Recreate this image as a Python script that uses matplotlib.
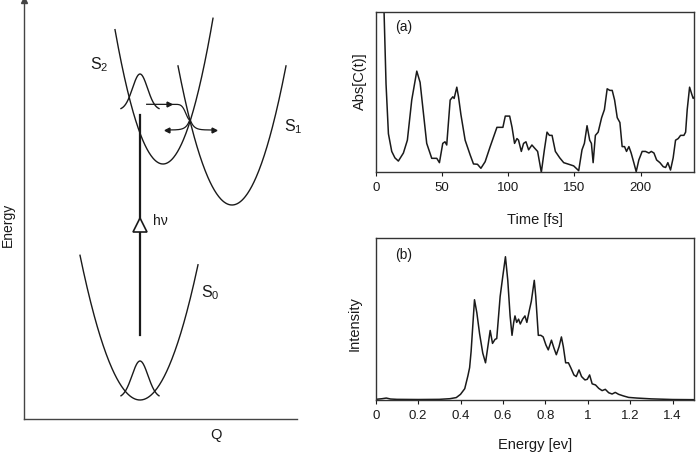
import numpy as np
import matplotlib
matplotlib.use('Agg')
import matplotlib.pyplot as plt

plt.rcParams['font.family'] = ['Liberation Sans', 'DejaVu Sans']
plt.rcParams['mathtext.fontset'] = 'custom'
plt.rcParams['mathtext.rm'] = 'Liberation Sans'
plt.rcParams['mathtext.it'] = 'Liberation Sans:italic'

INK = '#1a1a1a'

# ---------------- (a) autocorrelation |C(t)| ----------------
time_fs = [4.5, 6.3, 7.8, 9.6, 12.1, 14.5, 17.1, 20.9, 23.9, 27.2, 31.0, 33.5, 36.0, 38.5,
           42.3, 46.1, 48.1, 50.6, 52.3, 53.6, 56.2, 58.2, 59.2, 61.2, 62.5, 64.3, 67.5,
           71.3, 73.8, 76.8, 79.4, 82.6, 86.4, 91.5, 96.0, 97.8, 101.1, 102.9, 104.8,
           106.6, 107.8, 109.9, 111.6, 113.4, 115.4, 117.9, 120.0, 122.2, 125.0, 127.3,
           129.3, 131.1, 133.1, 135.6, 138.9, 141.9, 145.7, 149.4, 153.2, 155.7, 157.5,
           159.5, 161.5, 162.8, 164.1, 165.8, 167.9, 170.5, 172.6, 174.7, 176.7, 178.5,
           180.3, 182.3, 184.3, 186.0, 187.8, 189.3, 191.1, 192.8, 194.8, 196.6, 198.6,
           201.1, 203.6, 206.2, 208.0, 210.0, 212.0, 214.5, 217.0, 218.8, 220.5, 222.5,
           224.5, 226.3, 228.3, 230.1, 232.6, 233.9, 235.1, 236.9, 238.4, 239.6, 240.6]
abs_ct = [1.30, 1.00, 0.55, 0.24, 0.13, 0.09, 0.07, 0.12, 0.20, 0.45, 0.63, 0.56, 0.37, 0.18,
          0.087, 0.087, 0.06, 0.18, 0.19, 0.17, 0.45, 0.47, 0.46, 0.53, 0.47, 0.36, 0.20,
          0.108, 0.052, 0.05, 0.025, 0.066, 0.16, 0.28, 0.28, 0.35, 0.35, 0.28, 0.18,
          0.21, 0.20, 0.13, 0.18, 0.19, 0.14, 0.17, 0.15, 0.13, 0.0, 0.14,
          0.25, 0.23, 0.23, 0.13, 0.09, 0.06, 0.05, 0.04, 0.01, 0.14, 0.18,
          0.29, 0.20, 0.18, 0.06, 0.23, 0.25, 0.34, 0.39, 0.52, 0.51, 0.51,
          0.45, 0.34, 0.31, 0.16, 0.16, 0.13, 0.16, 0.12, 0.06, 0.004, 0.077,
          0.13, 0.13, 0.12, 0.13, 0.12, 0.077, 0.06, 0.035, 0.03, 0.06, 0.014,
          0.09, 0.20, 0.21, 0.23, 0.23, 0.25, 0.39, 0.53, 0.49, 0.46, 0.47]
time_ticks = [0, 50, 100, 150, 200]

# ---------------- (b) spectrum ----------------
energy_ev = [0.0, 0.03, 0.05, 0.07, 0.10, 0.20, 0.30, 0.35, 0.38, 0.40, 0.42, 0.435,
             0.443, 0.45, 0.466, 0.477, 0.49, 0.505, 0.518, 0.529, 0.54, 0.551, 0.563,
             0.571, 0.587, 0.599, 0.612, 0.623, 0.634, 0.643, 0.651, 0.657, 0.665,
             0.674, 0.682, 0.693, 0.704, 0.713, 0.724, 0.734, 0.748, 0.755, 0.767,
             0.779, 0.79, 0.803, 0.814, 0.829, 0.841, 0.852, 0.865, 0.876, 0.885,
             0.896, 0.909, 0.92, 0.935, 0.946, 0.959, 0.971, 0.987, 0.998, 1.009,
             1.021, 1.037, 1.052, 1.068, 1.083, 1.099, 1.115, 1.13, 1.146, 1.169,
             1.193, 1.232, 1.30, 1.40, 1.50]
intensity = [0.004, 0.008, 0.012, 0.006, 0.004, 0.003, 0.004, 0.008, 0.015, 0.035, 0.07, 0.15,
             0.10, 0.21, 0.62, 0.54, 0.41, 0.29, 0.23, 0.33, 0.43, 0.35, 0.375,
             0.38, 0.64, 0.76, 0.886, 0.74, 0.52, 0.40, 0.48, 0.52, 0.48,
             0.50, 0.47, 0.50, 0.52, 0.48, 0.55, 0.61, 0.74, 0.64, 0.40,
             0.40, 0.39, 0.34, 0.31, 0.37, 0.32, 0.28, 0.33, 0.39, 0.33,
             0.23, 0.23, 0.20, 0.155, 0.145, 0.186, 0.145, 0.124, 0.128, 0.155,
             0.10, 0.093, 0.072, 0.058, 0.066, 0.045, 0.037, 0.047, 0.035, 0.025,
             0.016, 0.012, 0.007, 0.003, 0.002]
energy_ticks = [0, 0.2, 0.4, 0.6, 0.8, 1.0, 1.2, 1.4]
energy_ticklabels = ['0', '0.2', '0.4', '0.6', '0.8', '1', '1.2', '1.4']
intensity[11] = 0.15
intensity[12] = 0.20
intensity[13] = 0.30

# ---------------- schematic potential surfaces ----------------
state_labels = ['S$_0$', 'S$_1$', 'S$_2$']
state_vertex_q = [116, 208, 139]
state_vertex_e = [19, 214, 255]
state_curv = [0.0402, 0.0477, 0.0583]
state_q_min = [56, 154, 91]
state_q_max = [174, 262, 189]
state_label_q = [186, 269, 75]
state_label_e = [126, 292, 354]

packet_center_q = [116, 116]
packet_base_e = [21, 309]
packet_amp = [37, 36]
packet_sigma = [8.0, 7.5]
packet_halfwidth = [19, 19]

photon_q = 116
photon_e = [84, 304]
photon_marker_e = 194

transfer_q = [122.7, 166]
transfer_e = [314.7, 299]
transfer_arrow_q = 145

cross_q = 166
cross_base_e = 289
cross_amp = 11
cross_q_ends = [143, 190]

fig = plt.figure(figsize=(7.0, 4.55), dpi=100)

# left schematic axes
ax0 = fig.add_axes([24/700, 36/455, 273/700, 419/455])
ax0.set_xlim(0, 273)
ax0.set_ylim(0, 419)
for s in ['top', 'right']:
    ax0.spines[s].set_visible(False)
for s in ['left', 'bottom']:
    ax0.spines[s].set_color('#444444')
    ax0.spines[s].set_linewidth(1.0)
ax0.set_xticks([])
ax0.set_yticks([])
ax0.plot([0], [419], marker='^', ms=4, color='#444444', clip_on=False)

for lab, q0, e0, k, qa, qb, lq, le in zip(state_labels, state_vertex_q, state_vertex_e,
                                          state_curv, state_q_min, state_q_max,
                                          state_label_q, state_label_e):
    q = np.linspace(qa, qb, 200)
    ax0.plot(q, e0 + k * (q - q0) ** 2, color=INK, lw=1.0)
    ax0.text(lq, le, lab, fontsize=11.5, ha='center', va='center', color=INK)

for qc, eb, a, sg, hw in zip(packet_center_q, packet_base_e, packet_amp, packet_sigma,
                             packet_halfwidth):
    q = np.linspace(qc - hw, qc + hw, 200)
    ax0.plot(q, eb + a * np.exp(-(q - qc) ** 2 / (2 * sg ** 2)), color=INK, lw=1.0)

ax0.plot([photon_q, photon_q], photon_e, color=INK, lw=1.6)
ax0.plot([photon_q], [photon_marker_e], marker='^', ms=10, mfc='white', mec=INK, mew=1.2)
ax0.text(photon_q + 13, photon_marker_e + 4, 'hν', fontsize=10, ha='left', va='center', color=INK)

q = np.linspace(transfer_q[0], transfer_q[1], 200)
ax0.plot(q, transfer_e[1] + (transfer_e[0] - transfer_e[1]) *
         (1 - np.exp(-(q - transfer_q[1]) ** 2 / (2 * 4.0 ** 2))), color=INK, lw=0.9)
ax0.plot([transfer_arrow_q], [transfer_e[0]], marker='>', ms=3.5, color=INK)

q = np.linspace(cross_q_ends[0], cross_q_ends[1], 300)
ax0.plot(q, cross_base_e + cross_amp * np.exp(-np.abs(q - cross_q) / 3.5), color=INK, lw=0.9)
ax0.plot([cross_q_ends[0]], [cross_base_e], marker='<', ms=3.5, color=INK)
ax0.plot([cross_q_ends[1]], [cross_base_e], marker='>', ms=3.5, color=INK)

ax0.set_ylabel('Energy', fontsize=10, color=INK)
ax0.yaxis.set_label_coords(-0.035, 0.463)
ax0.set_xlabel('Q', fontsize=10.5, color=INK)
ax0.xaxis.set_label_coords(0.703, -0.022)

# right panels
def style(ax):
    for s in ax.spines.values():
        s.set_linewidth(1.0)
        s.set_color('#333333')
    ax.set_yticks([])
    ax.tick_params(axis='x', direction='out', length=3, width=0.8, pad=4,
                   labelsize=9.5, colors=INK)

ax1 = fig.add_axes([375.7/700, (455-172.3)/455, 318/700, 160.6/455])
ax1.plot(time_fs, abs_ct, color=INK, lw=1.1)
ax1.set_xlim(0, 240)
ax1.set_ylim(0, 1)
ax1.set_xticks(time_ticks)
style(ax1)
ax1.set_xlabel('Time [fs]', fontsize=10.5, color=INK)
ax1.xaxis.set_label_coords(0.5, -0.255)
ax1.xaxis.label.set_va('top')
ax1.set_ylabel('Abs[C(t)]', fontsize=10.5, color=INK)
ax1.yaxis.set_label_coords(-0.028, 0.57)
ax1.text(0.061, 0.95, '(a)', transform=ax1.transAxes, fontsize=10, va='top', ha='left', color=INK)

ax2 = fig.add_axes([375.7/700, 55/455, 318/700, 161.7/455])
ax2.plot(energy_ev, intensity, color=INK, lw=1.1)
ax2.set_xlim(0, 1.5)
ax2.set_ylim(0, 1)
ax2.set_xticks(energy_ticks)
ax2.set_xticklabels(energy_ticklabels)
style(ax2)
ax2.set_xlabel('Energy [ev]', fontsize=10.5, color=INK)
ax2.xaxis.set_label_coords(0.5, -0.235)
ax2.xaxis.label.set_va('top')
ax2.set_ylabel('Intensity', fontsize=10.5, color=INK)
ax2.yaxis.set_label_coords(-0.045, 0.47)
ax2.text(0.061, 0.94, '(b)', transform=ax2.transAxes, fontsize=10, va='top', ha='left', color=INK)

fig.savefig('out.png', dpi=100)
